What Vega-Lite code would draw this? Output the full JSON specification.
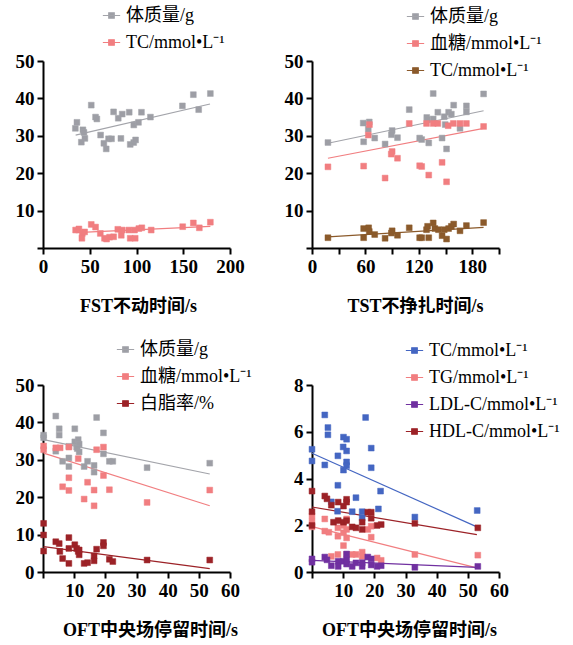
{
"$schema":"https://vega.github.io/schema/vega-lite/v6.json",
"padding":{"left":15,"top":6,"right":0,"bottom":0},
"background":"white",
"datasets":{
"p1p":[
{"s":"体质量/g","x":36.3,"y":33.6},{"s":"体质量/g","x":34.6,"y":32.0},{"s":"体质量/g","x":42.7,"y":31.6},{"s":"体质量/g","x":43.8,"y":30.9},{"s":"体质量/g","x":44.8,"y":29.3},{"s":"体质量/g","x":41,"y":28.3},{"s":"体质量/g","x":51.6,"y":38.2},{"s":"体质量/g","x":56.2,"y":35.0},{"s":"体质量/g","x":57.6,"y":34.5},{"s":"体质量/g","x":61.6,"y":30.2},{"s":"体质量/g","x":65.1,"y":28.0},{"s":"体质量/g","x":67.6,"y":26.5},{"s":"体质量/g","x":70.1,"y":29.2},{"s":"体质量/g","x":73.3,"y":29.2},{"s":"体质量/g","x":75.5,"y":36.4},{"s":"体质量/g","x":80.5,"y":34.7},{"s":"体质量/g","x":84.7,"y":35.8},{"s":"体质量/g","x":83.3,"y":29.3},{"s":"体质量/g","x":92.2,"y":36.3},{"s":"体质量/g","x":93.3,"y":27.7},{"s":"体质量/g","x":97.1,"y":32.9},{"s":"体质量/g","x":97,"y":28.2},{"s":"体质量/g","x":99,"y":28.9},{"s":"体质量/g","x":102.1,"y":33.6},{"s":"体质量/g","x":105.3,"y":36.3},{"s":"体质量/g","x":114.9,"y":35.0},{"s":"体质量/g","x":149.1,"y":38.0},{"s":"体质量/g","x":160.8,"y":41.0},{"s":"体质量/g","x":166.5,"y":37.0},{"s":"体质量/g","x":179,"y":41.3},
{"s":"TC/mmol•L⁻¹","x":34.9,"y":4.8},{"s":"TC/mmol•L⁻¹","x":38.4,"y":5.1},{"s":"TC/mmol•L⁻¹","x":42,"y":3.9},{"s":"TC/mmol•L⁻¹","x":41.6,"y":2.6},{"s":"TC/mmol•L⁻¹","x":44.5,"y":4.3},{"s":"TC/mmol•L⁻¹","x":51.6,"y":6.3},{"s":"TC/mmol•L⁻¹","x":56.2,"y":5.6},{"s":"TC/mmol•L⁻¹","x":61.3,"y":3.9},{"s":"TC/mmol•L⁻¹","x":65.8,"y":2.6},{"s":"TC/mmol•L⁻¹","x":71.2,"y":2.9},{"s":"TC/mmol•L⁻¹","x":68,"y":2.4},{"s":"TC/mmol•L⁻¹","x":75.5,"y":3.0},{"s":"TC/mmol•L⁻¹","x":80,"y":5.0},{"s":"TC/mmol•L⁻¹","x":83.7,"y":3.4},{"s":"TC/mmol•L⁻¹","x":84.7,"y":4.8},{"s":"TC/mmol•L⁻¹","x":91.8,"y":4.8},{"s":"TC/mmol•L⁻¹","x":93.3,"y":2.6},{"s":"TC/mmol•L⁻¹","x":98.6,"y":2.6},{"s":"TC/mmol•L⁻¹","x":97.9,"y":4.8},{"s":"TC/mmol•L⁻¹","x":102.5,"y":5.2},{"s":"TC/mmol•L⁻¹","x":105.7,"y":5.4},{"s":"TC/mmol•L⁻¹","x":115.7,"y":4.8},{"s":"TC/mmol•L⁻¹","x":149.4,"y":5.7},{"s":"TC/mmol•L⁻¹","x":160.8,"y":6.7},{"s":"TC/mmol•L⁻¹","x":167.2,"y":5.4},{"s":"TC/mmol•L⁻¹","x":179,"y":6.9}
],
"p1l":[
{"s":"体质量/g","x":34.9,"y":30.2},{"s":"体质量/g","x":178.6,"y":38.5},
{"s":"TC/mmol•L⁻¹","x":35,"y":4.1},{"s":"TC/mmol•L⁻¹","x":179,"y":5.8}
],
"p2p":[
{"s":"体质量/g","x":17.9,"y":28.2},{"s":"体质量/g","x":57.5,"y":33.4},{"s":"体质量/g","x":64.3,"y":33.7},{"s":"体质量/g","x":63.2,"y":31.8},{"s":"体质量/g","x":58,"y":28.4},{"s":"体质量/g","x":70.4,"y":29.4},{"s":"体质量/g","x":82.1,"y":27.8},{"s":"体质量/g","x":90,"y":31.4},{"s":"体质量/g","x":89.2,"y":30.3},{"s":"体质量/g","x":96,"y":29.5},{"s":"体质量/g","x":109.2,"y":37.0},{"s":"体质量/g","x":120.9,"y":29.4},{"s":"体质量/g","x":123.2,"y":29.0},{"s":"体质量/g","x":131.1,"y":28.1},{"s":"体质量/g","x":128.9,"y":34.9},{"s":"体质量/g","x":129.5,"y":34.3},{"s":"体质量/g","x":136.1,"y":41.3},{"s":"体质量/g","x":136.1,"y":34.5},{"s":"体质量/g","x":141.3,"y":36.3},{"s":"体质量/g","x":146.1,"y":29.4},{"s":"体质量/g","x":148.5,"y":35.1},{"s":"体质量/g","x":149.6,"y":33.0},{"s":"体质量/g","x":151.1,"y":26.5},{"s":"体质量/g","x":153.4,"y":36.3},{"s":"体质量/g","x":156.5,"y":35.8},{"s":"体质量/g","x":159.1,"y":38.2},{"s":"体质量/g","x":166.2,"y":32.0},{"s":"体质量/g","x":173.4,"y":38.0},{"s":"体质量/g","x":173.4,"y":36.4},{"s":"体质量/g","x":192.7,"y":41.2},
{"s":"血糖/mmol•L⁻¹","x":17.9,"y":21.7},{"s":"血糖/mmol•L⁻¹","x":58,"y":21.9},{"s":"血糖/mmol•L⁻¹","x":63.2,"y":30.2},{"s":"血糖/mmol•L⁻¹","x":64.5,"y":33.0},{"s":"血糖/mmol•L⁻¹","x":82.1,"y":18.7},{"s":"血糖/mmol•L⁻¹","x":90,"y":25.8},{"s":"血糖/mmol•L⁻¹","x":89,"y":25.1},{"s":"血糖/mmol•L⁻¹","x":96,"y":24.0},{"s":"血糖/mmol•L⁻¹","x":109.2,"y":33.3},{"s":"血糖/mmol•L⁻¹","x":120.9,"y":22.0},{"s":"血糖/mmol•L⁻¹","x":123.2,"y":21.8},{"s":"血糖/mmol•L⁻¹","x":131.1,"y":19.5},{"s":"血糖/mmol•L⁻¹","x":128.6,"y":33.3},{"s":"血糖/mmol•L⁻¹","x":136.1,"y":33.3},{"s":"血糖/mmol•L⁻¹","x":141.3,"y":33.3},{"s":"血糖/mmol•L⁻¹","x":146.1,"y":22.9},{"s":"血糖/mmol•L⁻¹","x":151.1,"y":17.7},{"s":"血糖/mmol•L⁻¹","x":152.9,"y":32.7},{"s":"血糖/mmol•L⁻¹","x":158.7,"y":33.3},{"s":"血糖/mmol•L⁻¹","x":166.2,"y":33.3},{"s":"血糖/mmol•L⁻¹","x":173.4,"y":33.3},{"s":"血糖/mmol•L⁻¹","x":192.7,"y":32.5},
{"s":"TC/mmol•L⁻¹","x":17.9,"y":2.75},{"s":"TC/mmol•L⁻¹","x":58,"y":5.2},{"s":"TC/mmol•L⁻¹","x":58,"y":2.75},{"s":"TC/mmol•L⁻¹","x":63.6,"y":5.4},{"s":"TC/mmol•L⁻¹","x":64.3,"y":4.4},{"s":"TC/mmol•L⁻¹","x":70.4,"y":3.6},{"s":"TC/mmol•L⁻¹","x":82.1,"y":2.6},{"s":"TC/mmol•L⁻¹","x":90,"y":4.6},{"s":"TC/mmol•L⁻¹","x":89.2,"y":4.0},{"s":"TC/mmol•L⁻¹","x":96,"y":3.4},{"s":"TC/mmol•L⁻¹","x":109.2,"y":5.4},{"s":"TC/mmol•L⁻¹","x":120.9,"y":2.75},{"s":"TC/mmol•L⁻¹","x":123.2,"y":2.75},{"s":"TC/mmol•L⁻¹","x":131.1,"y":2.75},{"s":"TC/mmol•L⁻¹","x":128.6,"y":4.9},{"s":"TC/mmol•L⁻¹","x":129.8,"y":5.8},{"s":"TC/mmol•L⁻¹","x":136.1,"y":6.7},{"s":"TC/mmol•L⁻¹","x":138,"y":5.2},{"s":"TC/mmol•L⁻¹","x":142,"y":4.9},{"s":"TC/mmol•L⁻¹","x":146.1,"y":3.3},{"s":"TC/mmol•L⁻¹","x":148.5,"y":4.9},{"s":"TC/mmol•L⁻¹","x":151.1,"y":2.4},{"s":"TC/mmol•L⁻¹","x":153.4,"y":5.2},{"s":"TC/mmol•L⁻¹","x":156.5,"y":5.8},{"s":"TC/mmol•L⁻¹","x":159.1,"y":6.4},{"s":"TC/mmol•L⁻¹","x":166.2,"y":4.6},{"s":"TC/mmol•L⁻¹","x":173.4,"y":6.0},{"s":"TC/mmol•L⁻¹","x":192.7,"y":6.8}
],
"p2l":[
{"s":"体质量/g","x":17.9,"y":28.0},{"s":"体质量/g","x":192.7,"y":36.7},
{"s":"血糖/mmol•L⁻¹","x":17.9,"y":24.0},{"s":"血糖/mmol•L⁻¹","x":192.7,"y":32.0},
{"s":"TC/mmol•L⁻¹","x":17.9,"y":3.0},{"s":"TC/mmol•L⁻¹","x":192.7,"y":5.5}
],
"p3p":[
{"s":"体质量/g","x":0.2,"y":36.6},{"s":"体质量/g","x":0.2,"y":35.9},{"s":"体质量/g","x":4.1,"y":41.7},{"s":"体质量/g","x":4.1,"y":32.3},{"s":"体质量/g","x":5.2,"y":38.3},{"s":"体质量/g","x":5.2,"y":36.6},{"s":"体质量/g","x":6.3,"y":29.6},{"s":"体质量/g","x":8.3,"y":30.5},{"s":"体质量/g","x":8.3,"y":28.2},{"s":"体质量/g","x":8.3,"y":33.6},{"s":"体质量/g","x":10.2,"y":38.3},{"s":"体质量/g","x":10.2,"y":34.8},{"s":"体质量/g","x":10.8,"y":33.4},{"s":"体质量/g","x":11.3,"y":35.4},{"s":"体质量/g","x":11.6,"y":34.2},{"s":"体质量/g","x":11.0,"y":33.0},{"s":"体质量/g","x":11.6,"y":32.1},{"s":"体质量/g","x":13.2,"y":28.2},{"s":"体质量/g","x":14.3,"y":29.6},{"s":"体质量/g","x":16.4,"y":28.5},{"s":"体质量/g","x":16.4,"y":26.7},{"s":"体质量/g","x":17.2,"y":41.3},{"s":"体质量/g","x":19.4,"y":37.2},{"s":"体质量/g","x":19.4,"y":31.6},{"s":"体质量/g","x":21.3,"y":29.6},{"s":"体质量/g","x":22.4,"y":29.6},{"s":"体质量/g","x":33.4,"y":27.9},{"s":"体质量/g","x":53.5,"y":29.1},
{"s":"血糖/mmol•L⁻¹","x":0.2,"y":33.7},{"s":"血糖/mmol•L⁻¹","x":0.2,"y":32.7},{"s":"血糖/mmol•L⁻¹","x":4.1,"y":33.2},{"s":"血糖/mmol•L⁻¹","x":5.5,"y":33.2},{"s":"血糖/mmol•L⁻¹","x":6.3,"y":22.8},{"s":"血糖/mmol•L⁻¹","x":8.3,"y":25.2},{"s":"血糖/mmol•L⁻¹","x":8.3,"y":21.8},{"s":"血糖/mmol•L⁻¹","x":8.3,"y":33.4},{"s":"血糖/mmol•L⁻¹","x":11.3,"y":30.3},{"s":"血糖/mmol•L⁻¹","x":13.2,"y":19.5},{"s":"血糖/mmol•L⁻¹","x":14.3,"y":24.0},{"s":"血糖/mmol•L⁻¹","x":16.4,"y":21.9},{"s":"血糖/mmol•L⁻¹","x":16.4,"y":17.7},{"s":"血糖/mmol•L⁻¹","x":17.2,"y":32.7},{"s":"血糖/mmol•L⁻¹","x":19.4,"y":33.4},{"s":"血糖/mmol•L⁻¹","x":19.4,"y":25.8},{"s":"血糖/mmol•L⁻¹","x":21.3,"y":22.0},{"s":"血糖/mmol•L⁻¹","x":33.4,"y":18.6},{"s":"血糖/mmol•L⁻¹","x":53.5,"y":21.9},
{"s":"白脂率/%","x":0.2,"y":13.0},{"s":"白脂率/%","x":0.2,"y":9.9},{"s":"白脂率/%","x":0.2,"y":5.6},{"s":"白脂率/%","x":4.1,"y":8.1},{"s":"白脂率/%","x":5.2,"y":7.6},{"s":"白脂率/%","x":5.4,"y":5.5},{"s":"白脂率/%","x":6.3,"y":3.6},{"s":"白脂率/%","x":8.3,"y":9.2},{"s":"白脂率/%","x":8.3,"y":6.3},{"s":"白脂率/%","x":8.3,"y":2.3},{"s":"白脂率/%","x":10.2,"y":7.3},{"s":"白脂率/%","x":10.8,"y":6.3},{"s":"白脂率/%","x":11.3,"y":5.5},{"s":"白脂率/%","x":11.6,"y":4.6},{"s":"白脂率/%","x":11.6,"y":5.9},{"s":"白脂率/%","x":13.2,"y":2.3},{"s":"白脂率/%","x":14.3,"y":2.5},{"s":"白脂率/%","x":16.4,"y":4.3},{"s":"白脂率/%","x":16.4,"y":3.0},{"s":"白脂率/%","x":17.2,"y":6.1},{"s":"白脂率/%","x":19.4,"y":7.9},{"s":"白脂率/%","x":19.4,"y":7.0},{"s":"白脂率/%","x":21.3,"y":3.4},{"s":"白脂率/%","x":22.4,"y":2.8},{"s":"白脂率/%","x":33.4,"y":3.2},{"s":"白脂率/%","x":53.5,"y":3.2}
],
"p3l":[
{"s":"体质量/g","x":0.2,"y":35.4},{"s":"体质量/g","x":53.5,"y":26.2},
{"s":"血糖/mmol•L⁻¹","x":0.2,"y":31.8},{"s":"血糖/mmol•L⁻¹","x":53.5,"y":17.7},
{"s":"白脂率/%","x":0.2,"y":6.8},{"s":"白脂率/%","x":53.5,"y":0.9}
],
"p4p":[
{"s":"TC/mmol•L⁻¹","x":0,"y":5.25},{"s":"TC/mmol•L⁻¹","x":0,"y":4.75},{"s":"TC/mmol•L⁻¹","x":4.1,"y":6.72},{"s":"TC/mmol•L⁻¹","x":4.1,"y":4.58},{"s":"TC/mmol•L⁻¹","x":5.1,"y":6.18},{"s":"TC/mmol•L⁻¹","x":5.1,"y":5.87},{"s":"TC/mmol•L⁻¹","x":6.2,"y":3.0},{"s":"TC/mmol•L⁻¹","x":8.3,"y":4.97},{"s":"TC/mmol•L⁻¹","x":8.3,"y":3.71},{"s":"TC/mmol•L⁻¹","x":8.2,"y":2.6},{"s":"TC/mmol•L⁻¹","x":10.1,"y":5.77},{"s":"TC/mmol•L⁻¹","x":10,"y":5.35},{"s":"TC/mmol•L⁻¹","x":11.1,"y":5.68},{"s":"TC/mmol•L⁻¹","x":11.1,"y":5.18},{"s":"TC/mmol•L⁻¹","x":11.1,"y":4.71},{"s":"TC/mmol•L⁻¹","x":11.1,"y":4.55},{"s":"TC/mmol•L⁻¹","x":10.1,"y":4.36},{"s":"TC/mmol•L⁻¹","x":14.1,"y":3.18},{"s":"TC/mmol•L⁻¹","x":12.9,"y":2.58},{"s":"TC/mmol•L⁻¹","x":16.1,"y":2.58},{"s":"TC/mmol•L⁻¹","x":16.1,"y":2.32},{"s":"TC/mmol•L⁻¹","x":17.2,"y":6.61},{"s":"TC/mmol•L⁻¹","x":19,"y":5.3},{"s":"TC/mmol•L⁻¹","x":19,"y":4.46},{"s":"TC/mmol•L⁻¹","x":22,"y":3.46},{"s":"TC/mmol•L⁻¹","x":21.3,"y":2.7},{"s":"TC/mmol•L⁻¹","x":33,"y":2.35},{"s":"TC/mmol•L⁻¹","x":53,"y":2.63},
{"s":"TG/mmol•L⁻¹","x":0,"y":2.39},{"s":"TG/mmol•L⁻¹","x":0,"y":2.15},{"s":"TG/mmol•L⁻¹","x":0,"y":1.93},{"s":"TG/mmol•L⁻¹","x":4.1,"y":2.27},{"s":"TG/mmol•L⁻¹","x":4.1,"y":1.75},{"s":"TG/mmol•L⁻¹","x":5.4,"y":1.70},{"s":"TG/mmol•L⁻¹","x":6.2,"y":0.67},{"s":"TG/mmol•L⁻¹","x":8.3,"y":1.89},{"s":"TG/mmol•L⁻¹","x":8.3,"y":1.53},{"s":"TG/mmol•L⁻¹","x":8.3,"y":0.75},{"s":"TG/mmol•L⁻¹","x":10.1,"y":1.99},{"s":"TG/mmol•L⁻¹","x":10.1,"y":1.68},{"s":"TG/mmol•L⁻¹","x":10.1,"y":1.13},{"s":"TG/mmol•L⁻¹","x":11.1,"y":2.27},{"s":"TG/mmol•L⁻¹","x":11.1,"y":1.82},{"s":"TG/mmol•L⁻¹","x":11.1,"y":1.46},{"s":"TG/mmol•L⁻¹","x":11.1,"y":0.75},{"s":"TG/mmol•L⁻¹","x":12.9,"y":0.75},{"s":"TG/mmol•L⁻¹","x":14.1,"y":0.75},{"s":"TG/mmol•L⁻¹","x":16.1,"y":0.85},{"s":"TG/mmol•L⁻¹","x":16.1,"y":0.67},{"s":"TG/mmol•L⁻¹","x":17.9,"y":1.82},{"s":"TG/mmol•L⁻¹","x":19,"y":1.49},{"s":"TG/mmol•L⁻¹","x":19,"y":1.96},{"s":"TG/mmol•L⁻¹","x":20.9,"y":0.6},{"s":"TG/mmol•L⁻¹","x":22.2,"y":0.5},{"s":"TG/mmol•L⁻¹","x":33,"y":0.75},{"s":"TG/mmol•L⁻¹","x":53.2,"y":0.72},
{"s":"LDL-C/mmol•L⁻¹","x":0,"y":0.56},{"s":"LDL-C/mmol•L⁻¹","x":0,"y":0.42},{"s":"LDL-C/mmol•L⁻¹","x":4.1,"y":0.64},{"s":"LDL-C/mmol•L⁻¹","x":4.8,"y":0.52},{"s":"LDL-C/mmol•L⁻¹","x":6.2,"y":0.27},{"s":"LDL-C/mmol•L⁻¹","x":8.4,"y":0.46},{"s":"LDL-C/mmol•L⁻¹","x":8.4,"y":0.24},{"s":"LDL-C/mmol•L⁻¹","x":10.1,"y":0.46},{"s":"LDL-C/mmol•L⁻¹","x":11.1,"y":0.77},{"s":"LDL-C/mmol•L⁻¹","x":11.1,"y":0.52},{"s":"LDL-C/mmol•L⁻¹","x":11.1,"y":0.34},{"s":"LDL-C/mmol•L⁻¹","x":12.9,"y":0.24},{"s":"LDL-C/mmol•L⁻¹","x":14.1,"y":0.39},{"s":"LDL-C/mmol•L⁻¹","x":16.1,"y":0.24},{"s":"LDL-C/mmol•L⁻¹","x":16.1,"y":0.4},{"s":"LDL-C/mmol•L⁻¹","x":17.9,"y":0.64},{"s":"LDL-C/mmol•L⁻¹","x":19,"y":0.56},{"s":"LDL-C/mmol•L⁻¹","x":19,"y":0.3},{"s":"LDL-C/mmol•L⁻¹","x":20.9,"y":0.24},{"s":"LDL-C/mmol•L⁻¹","x":22.2,"y":0.27},{"s":"LDL-C/mmol•L⁻¹","x":33,"y":0.2},{"s":"LDL-C/mmol•L⁻¹","x":53.2,"y":0.24},
{"s":"HDL-C/mmol•L⁻¹","x":0,"y":3.46},{"s":"HDL-C/mmol•L⁻¹","x":0,"y":2.58},{"s":"HDL-C/mmol•L⁻¹","x":0,"y":1.99},{"s":"HDL-C/mmol•L⁻¹","x":4.1,"y":3.25},{"s":"HDL-C/mmol•L⁻¹","x":4.8,"y":3.13},{"s":"HDL-C/mmol•L⁻¹","x":6.2,"y":2.86},{"s":"HDL-C/mmol•L⁻¹","x":6.9,"y":2.13},{"s":"HDL-C/mmol•L⁻¹","x":8.4,"y":2.99},{"s":"HDL-C/mmol•L⁻¹","x":8.4,"y":2.2},{"s":"HDL-C/mmol•L⁻¹","x":10.1,"y":2.13},{"s":"HDL-C/mmol•L⁻¹","x":11.1,"y":2.2},{"s":"HDL-C/mmol•L⁻¹","x":10.1,"y":2.82},{"s":"HDL-C/mmol•L⁻¹","x":11.1,"y":3.11},{"s":"HDL-C/mmol•L⁻¹","x":11.1,"y":2.99},{"s":"HDL-C/mmol•L⁻¹","x":12.9,"y":1.93},{"s":"HDL-C/mmol•L⁻¹","x":14.1,"y":1.89},{"s":"HDL-C/mmol•L⁻¹","x":16.1,"y":1.82},{"s":"HDL-C/mmol•L⁻¹","x":16.1,"y":2.13},{"s":"HDL-C/mmol•L⁻¹","x":17.9,"y":2.56},{"s":"HDL-C/mmol•L⁻¹","x":19,"y":2.56},{"s":"HDL-C/mmol•L⁻¹","x":19,"y":2.3},{"s":"HDL-C/mmol•L⁻¹","x":20.9,"y":1.99},{"s":"HDL-C/mmol•L⁻¹","x":22.2,"y":2.03},{"s":"HDL-C/mmol•L⁻¹","x":33,"y":2.08},{"s":"HDL-C/mmol•L⁻¹","x":53.2,"y":1.89}
],
"p4l":[
{"s":"TC/mmol•L⁻¹","x":0,"y":5.08},{"s":"TC/mmol•L⁻¹","x":52.9,"y":1.93},
{"s":"TG/mmol•L⁻¹","x":0,"y":1.94},{"s":"TG/mmol•L⁻¹","x":52.9,"y":0.18},
{"s":"LDL-C/mmol•L⁻¹","x":0,"y":0.5},{"s":"LDL-C/mmol•L⁻¹","x":52.9,"y":0.2},
{"s":"HDL-C/mmol•L⁻¹","x":0,"y":2.78},{"s":"HDL-C/mmol•L⁻¹","x":52.9,"y":1.6}
]
},
"columns":2,
"spacing":{"column":32,"row":25},
"resolve":{"scale":{"x":"independent","y":"independent","fill":"independent","stroke":"independent"},"legend":{"fill":"independent","stroke":"independent"}},
"concat":[
{"width":187,"height":187,
 "layer":[
 {"data":{"name":"p1l"},"mark":{"type":"line","strokeWidth":1.2},
  "encoding":{
   "x":{"field":"x","type":"quantitative","scale":{"domain":[0,200],"nice":false},"axis":{"values":[0,50,100,150,200],"format":"d","tickCount":30,"labelOverlap":false,"title":"FST不动时间/s","titleX":95}},
   "y":{"field":"y","type":"quantitative","scale":{"domain":[0,50],"nice":false},"axis":{"values":[0,10,20,30,40,50],"format":"d","tickCount":30,"labelOverlap":false,"labelExpr":"datum.value == 0 ? '' : datum.label","title":null}},
   "stroke":{"field":"s","type":"nominal","scale":{"domain":["体质量/g","TC/mmol•L⁻¹"],"range":["#a3a4aa","#f17e80"]},"legend":{"title":null,"orient":"none","legendX":59,"legendY":-55}}}},
 {"data":{"name":"p1p"},"mark":{"type":"point","shape":"square","filled":true,"size":34,"opacity":1,"strokeWidth":0.5},
  "encoding":{
   "x":{"field":"x","type":"quantitative"},
   "y":{"field":"y","type":"quantitative"},
   "fill":{"field":"s","type":"nominal","scale":{"domain":["体质量/g","TC/mmol•L⁻¹"],"range":["#9d9ea5","#f17e80"]},"legend":{"title":null,"orient":"none","legendX":59,"legendY":-55}},
   "stroke":{"field":"s","type":"nominal"}}}
 ]},
{"width":187,"height":187,
 "layer":[
 {"data":{"name":"p2l"},"mark":{"type":"line","strokeWidth":1.2},
  "encoding":{
   "x":{"field":"x","type":"quantitative","scale":{"domain":[0,210],"nice":false},"axis":{"values":[0.01,30,60,90,120,150,180,210],"format":"d","tickCount":30,"labelOverlap":false,"labelExpr":"datum.value < 1 ? '0' : (datum.value == 60 ? '60' : (datum.value == 120 ? '120' : (datum.value == 180 ? '180' : '')))","title":"TST不挣扎时间/s","titleX":103}},
   "y":{"field":"y","type":"quantitative","scale":{"domain":[0,50],"nice":false},"axis":{"values":[0,10,20,30,40,50],"format":"d","tickCount":30,"labelOverlap":false,"labelExpr":"datum.value == 0 ? '' : datum.label","title":null}},
   "stroke":{"field":"s","type":"nominal","scale":{"domain":["体质量/g","血糖/mmol•L⁻¹","TC/mmol•L⁻¹"],"range":["#a3a4aa","#f17e80","#8b5a2b"]},"legend":{"title":null,"orient":"none","legendX":94,"legendY":-54}}}},
 {"data":{"name":"p2p"},"mark":{"type":"point","shape":"square","filled":true,"size":34,"opacity":1,"strokeWidth":0.5},
  "encoding":{
   "x":{"field":"x","type":"quantitative"},
   "y":{"field":"y","type":"quantitative"},
   "fill":{"field":"s","type":"nominal","scale":{"domain":["体质量/g","血糖/mmol•L⁻¹","TC/mmol•L⁻¹"],"range":["#9d9ea5","#f17e80","#8b5a2b"]},"legend":{"title":null,"orient":"none","legendX":94,"legendY":-54}},
   "stroke":{"field":"s","type":"nominal"}}}
 ]},
{"width":187,"height":187,
 "layer":[
 {"data":{"name":"p3l"},"mark":{"type":"line","strokeWidth":1.2},
  "encoding":{
   "x":{"field":"x","type":"quantitative","scale":{"domain":[0,60],"nice":false},"axis":{"values":[0,10,20,30,40,50,60],"format":"d","tickCount":30,"labelOverlap":false,"labelExpr":"datum.value == 0 ? '' : datum.label","title":"OFT中央场停留时间/s","titleX":107}},
   "y":{"field":"y","type":"quantitative","scale":{"domain":[0,50],"nice":false},"axis":{"values":[0,10,20,30,40,50],"format":"d","tickCount":30,"labelOverlap":false,"title":null}},
   "stroke":{"field":"s","type":"nominal","scale":{"domain":["体质量/g","血糖/mmol•L⁻¹","白脂率/%"],"range":["#a3a4aa","#f17e80","#9c2227"]},"legend":{"title":null,"orient":"none","legendX":73,"legendY":-45}}}},
 {"data":{"name":"p3p"},"mark":{"type":"point","shape":"square","filled":true,"size":34,"opacity":1,"strokeWidth":0.5},
  "encoding":{
   "x":{"field":"x","type":"quantitative"},
   "y":{"field":"y","type":"quantitative"},
   "fill":{"field":"s","type":"nominal","scale":{"domain":["体质量/g","血糖/mmol•L⁻¹","白脂率/%"],"range":["#9d9ea5","#f17e80","#9c2227"]},"legend":{"title":null,"orient":"none","legendX":73,"legendY":-45}},
   "stroke":{"field":"s","type":"nominal"}}}
 ]},
{"width":187,"height":187,
 "layer":[
 {"data":{"name":"p4l"},"mark":{"type":"line","strokeWidth":1.2},
  "encoding":{
   "x":{"field":"x","type":"quantitative","scale":{"domain":[0,60],"nice":false},"axis":{"values":[0,10,20,30,40,50,60],"format":"d","tickCount":30,"labelOverlap":false,"labelExpr":"datum.value == 0 ? '' : datum.label","title":"OFT中央场停留时间/s","titleX":97}},
   "y":{"field":"y","type":"quantitative","scale":{"domain":[0,8],"nice":false},"axis":{"values":[0,2,4,6,8],"format":"d","tickCount":30,"labelOverlap":false,"title":null}},
   "stroke":{"field":"s","type":"nominal","scale":{"domain":["TC/mmol•L⁻¹","TG/mmol•L⁻¹","LDL-C/mmol•L⁻¹","HDL-C/mmol•L⁻¹"],"range":["#4466c2","#f17e80","#7030a0","#9c2227"]},"legend":{"title":null,"orient":"none","legendX":93,"legendY":-44}}}},
 {"data":{"name":"p4p"},"mark":{"type":"point","shape":"square","filled":true,"size":34,"opacity":1,"strokeWidth":0.5},
  "encoding":{
   "x":{"field":"x","type":"quantitative"},
   "y":{"field":"y","type":"quantitative"},
   "fill":{"field":"s","type":"nominal","scale":{"domain":["TC/mmol•L⁻¹","TG/mmol•L⁻¹","LDL-C/mmol•L⁻¹","HDL-C/mmol•L⁻¹"],"range":["#4466c2","#f17e80","#7030a0","#9c2227"]},"legend":{"title":null,"orient":"none","legendX":93,"legendY":-44}},
   "stroke":{"field":"s","type":"nominal"}}}
 ]}
],
"config":{
 "view":{"stroke":null},
 "axis":{"grid":false,"labelOverlap":false,"labelBound":false,"labelFlush":false,"domainColor":"black","domainWidth":2,"tickColor":"black","tickWidth":2,"tickSize":6,"labelFont":"'Liberation Serif'","labelFontSize":19,"labelFontWeight":"bold","labelColor":"black","labelPadding":3,"titleFont":"'Liberation Serif', 'Noto Sans CJK SC'","titleFontSize":18,"titleFontWeight":"bold","titleColor":"black","titlePadding":21},
 "legend":{"symbolType":"M-1,0H1M-0.32,-0.32H0.32V0.32H-0.32Z","symbolSize":300,"symbolStrokeWidth":1.2,"symbolOpacity":1,"labelFont":"'Liberation Serif', 'Noto Sans CJK SC'","labelFontSize":18,"labelColor":"black","labelOffset":5,"rowPadding":8,"padding":0,"labelLimit":300}
}
}
